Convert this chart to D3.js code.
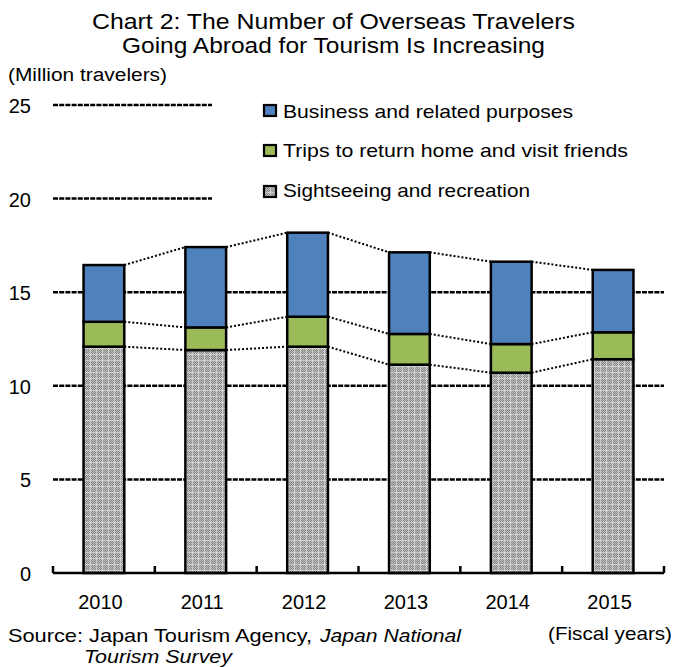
<!DOCTYPE html>
<html><head><meta charset="utf-8">
<script src="https://cdn.jsdelivr.net/npm/d3@7"></script>
<style>body{margin:0;background:#fff}svg{display:block;font-family:"Liberation Sans",Arial,sans-serif}</style>
</head><body><svg id="c" width="675" height="667"></svg>
<script>
const years = ["2010","2011","2012","2013","2014","2015"];
const sightseeing = [12.09, 11.91, 12.09, 11.13, 10.70, 11.42];
const visiting = [1.33, 1.21, 1.60, 1.64, 1.53, 1.44];
const business = [3.03, 4.29, 4.49, 4.36, 4.40, 3.33];
const yTicks = [0, 5, 10, 15, 20, 25];
const seriesNames = ["Business and related purposes", "Trips to return home and visit friends", "Sightseeing and recreation"];

const svg = d3.select("#c");
const defs = svg.append("defs");
const pat = defs.append("pattern").attr("id","dots").attr("patternUnits","userSpaceOnUse").attr("width",6).attr("height",6);
pat.append("rect").attr("width",6).attr("height",6).attr("fill","#858585");
for (let i=0;i<6;i++) for (let j=0;j<6;j++){
  if ((i+j)%2===0) pat.append("rect").attr("x",i).attr("y",j).attr("width",1).attr("height",1).attr("fill","#c0c0c0");
}
pat.append("rect").attr("x",0).attr("y",0).attr("width",6).attr("height",1).attr("fill","#e8e8e8").attr("opacity",0.6);
pat.append("rect").attr("x",0).attr("y",0).attr("width",1).attr("height",6).attr("fill","#e8e8e8").attr("opacity",0.6);

const x = d3.scaleBand().domain(years).range([53, 664]).paddingInner(0.6).paddingOuter(0.3);
const xb = d3.scaleBand().domain(years).range([53, 664]);
const y = d3.scaleLinear().domain([0,25]).range([573, 105]);

function fitText(sel, x0, x1, base, size, italic){
  const t = svg.append("text").attr("x",x0).attr("y",base).attr("font-size",size)
    .attr("textLength",x1-x0).attr("lengthAdjust","spacingAndGlyphs").text(sel);
  if (italic) t.attr("font-style","italic");
  return t;
}

// title
fitText("Chart 2: The Number of Overseas Travelers", 92, 575, 29, 22);
fitText("Going Abroad for Tourism Is Increasing", 122, 545, 53, 22);
fitText("(Million travelers)", 8, 167, 81, 18);

// gridlines
svg.append("g").selectAll("line").data(yTicks.filter(d=>d>0)).join("line")
  .attr("x1",53).attr("x2",d=>d>=20?212:664)
  .attr("y1",d=>y(d)).attr("y2",d=>y(d))
  .attr("stroke","#000").attr("stroke-width",2.5).attr("stroke-dasharray","5,1.2");

// y labels
svg.append("g").selectAll("text").data(yTicks).join("text")
  .attr("x",31).attr("y",d=>y(d)+8).attr("text-anchor","end").attr("font-size",20).text(d=>d);

// stack
const rows = years.map((yr,i)=>({year:yr, s:sightseeing[i], v:visiting[i], b:business[i]}));
const stack = d3.stack().keys(["s","v","b"])(rows);
const fills = {s:"url(#dots)", v:"#9bbb59", b:"#4f81bd"};

// connectors
stack.forEach(layer=>{
  for (let i=0;i<years.length-1;i++){
    svg.append("line")
      .attr("x1",x(years[i])+x.bandwidth()).attr("y1",y(layer[i][1]))
      .attr("x2",x(years[i+1])).attr("y2",y(layer[i+1][1]))
      .attr("stroke","#000").attr("stroke-width",2).attr("stroke-dasharray","2,2");
  }
});

const g = svg.append("g");
stack.forEach(layer=>{
  g.append("g").selectAll("rect").data(layer).join("rect")
    .attr("x",d=>x(d.data.year)).attr("width",x.bandwidth())
    .attr("y",d=>y(d[1])).attr("height",d=>y(d[0])-y(d[1]))
    .attr("fill",fills[layer.key]).attr("stroke","#000").attr("stroke-width",2.5);
});

// x axis
svg.append("line").attr("x1",53).attr("x2",664).attr("y1",573).attr("y2",573).attr("stroke","#000").attr("stroke-width",2.5);
const tickX = [53].concat(years.map(d=>xb(d)+xb.bandwidth()));
svg.append("g").selectAll("line").data(tickX).join("line")
  .attr("x1",d=>d).attr("x2",d=>d).attr("y1",573).attr("y2",566).attr("stroke","#000").attr("stroke-width",2.5);
svg.append("g").selectAll("text").data(years).join("text")
  .attr("x",d=>xb(d)+xb.bandwidth()/2-3.5).attr("y",609).attr("text-anchor","middle").attr("font-size",20).text(d=>d);

// legend
const leg = svg.append("g");
leg.append("rect").attr("x",213).attr("y",92).attr("width",440).attr("height",118).attr("fill","#fff");
const legFills = [fills.b, fills.v, fills.s];
const legTop = [104, 144, 185];
const legEnd = [573, 628, 530];
const legBase = [118, 157, 197];
seriesNames.forEach((n,i)=>{
  leg.append("rect").attr("x",264).attr("y",legTop[i]+1).attr("width",12).attr("height",11)
    .attr("fill",legFills[i]).attr("stroke","#000").attr("stroke-width",2.2);
  fitText(n, 283, legEnd[i], legBase[i], 19);
});

// source
fitText("Source: Japan Tourism Agency,", 8, 312, 642, 19);
fitText("Japan National", 320, 461, 642, 19, true);
fitText("Tourism Survey", 84, 232, 663, 19, true);
fitText("(Fiscal years)", 548, 672, 640, 19);
</script></body></html>
